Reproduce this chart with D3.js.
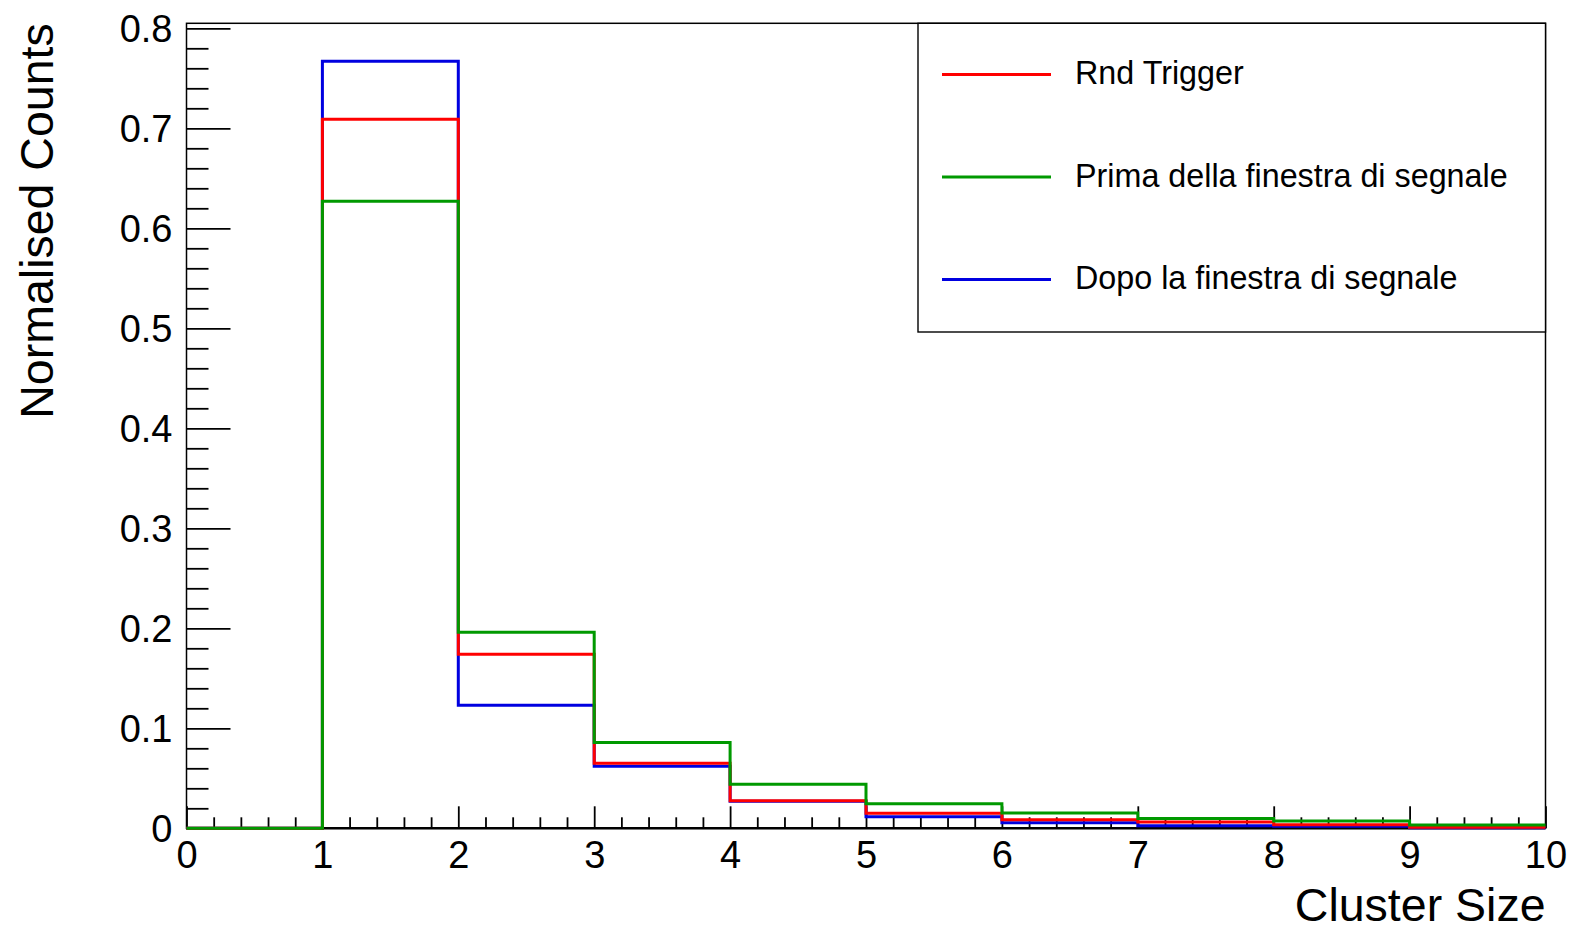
<!DOCTYPE html>
<html>
<head>
<meta charset="utf-8">
<script src="https://cdn.jsdelivr.net/npm/d3@7"></script>
<style>
  html, body { margin: 0; padding: 0; background: #fff; }
  svg { display: block; font-family: "Liberation Sans", Arial, Helvetica, sans-serif; }
</style>
</head>
<body>
<svg id="chart" width="1573" height="931"></svg>
<script>
// Bin edges of the cluster-size histograms (one bin per integer size)
const binEdges = [0, 1, 2, 3, 4, 5, 6, 7, 8, 9, 10];

// Normalised counts per bin, one array per selection
const rndTrigger    = [0, 0.709, 0.174, 0.065, 0.0276, 0.0150, 0.0086, 0.0062, 0.0035, 0.0010];
const primaFinestra = [0, 0.627, 0.196, 0.0858, 0.0440, 0.0245, 0.0153, 0.0097, 0.0072, 0.0033];
const dopoFinestra  = [0, 0.767, 0.123, 0.062, 0.0270, 0.0116, 0.0055, 0.0025, 0.0020, 0.0005];

// Legend entries (drawing order is blue, red, green; legend order below)
const seriesNames  = ["Rnd Trigger", "Prima della finestra di segnale", "Dopo la finestra di segnale"];
const seriesColors = ["#ff0000", "#009900", "#0000e0"];
const seriesValues = [rndTrigger, primaFinestra, dopoFinestra];
const drawOrder = [2, 0, 1];

// Axis ticks
const xTicks = [0, 1, 2, 3, 4, 5, 6, 7, 8, 9, 10];
const yTicks = [0, 0.1, 0.2, 0.3, 0.4, 0.5, 0.6, 0.7, 0.8];
const xTitle = "Cluster Size";
const yTitle = "Normalised Counts";

const frame = { left: 186.5, right: 1545.5, top: 23.3, bottom: 828.3 };

const x = d3.scaleLinear().domain([0, 10]).range([frame.left, frame.right]);
const y = d3.scaleLinear().domain([0, 0.805]).range([frame.bottom, frame.top]);

const svg = d3.select("#chart");

// Frame
svg.append("rect")
  .attr("x", frame.left).attr("y", frame.top)
  .attr("width", frame.right - frame.left)
  .attr("height", frame.bottom - frame.top)
  .attr("fill", "none").attr("stroke", "#000").attr("stroke-width", 1.5);

const fmt = d3.format("~g");

// X axis: major ticks with labels, minor ticks every 0.2
const xMinor = d3.range(0, 10.0001, 0.2).filter(v => Math.abs(v - Math.round(v)) > 1e-6);
const gxMinor = svg.append("g").attr("transform", `translate(0,${frame.bottom})`)
  .call(d3.axisBottom(x).tickValues(xMinor).tickSize(-11).tickSizeOuter(0).tickFormat(""));
const gx = svg.append("g").attr("transform", `translate(0,${frame.bottom})`)
  .call(d3.axisBottom(x).tickValues(xTicks).tickSize(-22).tickSizeOuter(0).tickPadding(13).tickFormat(fmt));

// Y axis: major ticks with labels, minor ticks every 0.02
const yMinor = d3.range(0, 0.8001, 0.02).filter(v => Math.abs(v * 10 - Math.round(v * 10)) > 1e-6);
const gyMinor = svg.append("g").attr("transform", `translate(${frame.left},0)`)
  .call(d3.axisLeft(y).tickValues(yMinor).tickSize(-22).tickSizeOuter(0).tickFormat(""));
const gy = svg.append("g").attr("transform", `translate(${frame.left},0)`)
  .call(d3.axisLeft(y).tickValues(yTicks).tickSize(-44).tickSizeOuter(0).tickPadding(14).tickFormat(fmt));

[gx, gxMinor, gy, gyMinor].forEach(g => {
  g.select(".domain").remove();
  g.selectAll(".tick line").attr("stroke", "#000").attr("stroke-width", 1.8);
  g.selectAll(".tick text").attr("fill", "#000")
    .style("font-family", "'Liberation Sans', Arial, sans-serif")
    .style("font-size", "38px");
});
gy.selectAll(".tick text").attr("dy", "0.34em");

// Bottom axis line
svg.append("line")
  .attr("x1", frame.left).attr("x2", frame.right)
  .attr("y1", frame.bottom).attr("y2", frame.bottom)
  .attr("stroke", "#000").attr("stroke-width", 2.5);

// Histograms as step contours
const step = d3.line()
  .x(d => x(d[0]))
  .y(d => y(d[1]))
  .curve(d3.curveStepAfter);

drawOrder.forEach(i => {
  const vals = seriesValues[i];
  const pts = vals.map((v, k) => [binEdges[k], v]);
  pts.push([binEdges[binEdges.length - 1], vals[vals.length - 1]]);
  svg.append("path")
    .attr("d", step(pts))
    .attr("fill", "none")
    .attr("stroke", seriesColors[i])
    .attr("stroke-width", 3)
    .attr("stroke-linejoin", "miter");
});

// Axis titles
svg.append("text")
  .attr("x", frame.right).attr("y", 921)
  .attr("text-anchor", "end")
  .style("font-size", "46.5px")
  .text(xTitle);

svg.append("text")
  .attr("transform", `translate(53,${frame.top}) rotate(-90)`)
  .attr("text-anchor", "end")
  .style("font-size", "46.5px")
  .text(yTitle);

// Legend
const legend = { left: 918, top: frame.top, right: frame.right, bottom: 332 };
svg.append("rect")
  .attr("x", legend.left).attr("y", legend.top)
  .attr("width", legend.right - legend.left)
  .attr("height", legend.bottom - legend.top)
  .attr("fill", "#fff").attr("stroke", "#000").attr("stroke-width", 1.4);

const rowY = [74.5, 177, 279.5];
seriesNames.forEach((name, i) => {
  svg.append("line")
    .attr("x1", 942).attr("x2", 1051)
    .attr("y1", rowY[i]).attr("y2", rowY[i])
    .attr("stroke", seriesColors[i]).attr("stroke-width", 2.8);
  svg.append("text")
    .attr("x", 1075).attr("y", rowY[i])
    .attr("dy", "0.3em")
    .style("font-size", "32.3px")
    .text(name);
});
</script>
</body>
</html>
